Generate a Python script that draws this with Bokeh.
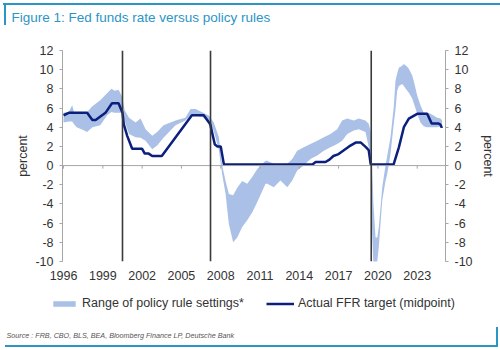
from bokeh.plotting import figure
from bokeh.layouts import column
from bokeh.models import (Range1d, LinearAxis, Span, Legend, LegendItem, FixedTicker, Label)
from bokeh.embed import file_html
from bokeh.resources import INLINE

# ---- data (x in chart years) ----
band_year = [1996.0, 1996.4, 1996.66, 1996.8, 1997.0, 1997.5, 1997.8, 1998.2, 1998.8,
             1999.36, 1999.66, 1999.9, 2000.2, 2000.47, 2000.66, 2001.0, 2001.5, 2001.88,
             2002.26, 2002.77, 2003.15, 2003.63, 2004.55, 2005.3, 2005.7, 2006.08, 2006.59,
             2007.1, 2007.47, 2007.86, 2008.11, 2008.37, 2008.62, 2008.95, 2009.26, 2009.64,
             2010.02, 2010.4, 2010.79, 2011.42, 2011.55, 2012.05, 2012.56, 2013.08, 2013.46,
             2013.84, 2014.34, 2014.85, 2015.37, 2015.87, 2016.38, 2016.89, 2017.27, 2017.66,
             2018.16, 2018.54, 2019.05, 2019.3, 2019.45, 2019.56, 2019.66, 2019.82, 2019.95,
             2020.07, 2020.33, 2020.58, 2020.71, 2020.96, 2021.21, 2021.34, 2021.47, 2021.6,
             2021.85, 2021.98, 2022.24, 2022.36, 2022.62, 2022.74, 2023.0, 2023.25, 2023.5,
             2023.76, 2024.02, 2024.53, 2024.78, 2024.9]
band_upper = [5.5, 5.6, 6.3, 5.6, 5.6, 5.5, 5.6, 6.2, 6.8,
              7.6, 8.0, 7.8, 7.9, 7.2, 5.8, 5.0, 4.5, 4.9,
              3.8, 3.1, 3.5, 4.2, 4.7, 5.0, 5.9, 5.9, 5.55,
              5.2, 4.5, 2.95, 0.0, -1.6, -2.95, -3.1, -2.3, -1.6,
              -1.9, -1.2, -0.35, 0.5, 0.5, 0.2, 0.0, 0.2, 0.7,
              1.56, 1.9, 2.25, 2.6, 2.95, 3.3, 3.8, 4.7, 4.9,
              4.7, 4.9, 4.7, 4.35, 3.5, 0.0, -4.0, -7.5, -7.5,
              -6.4, -2.25, 0.0, 1.0, 2.95, 6.1, 8.85, 9.6, 10.2,
              10.4, 10.6, 10.3, 10.1, 9.4, 8.8, 7.3, 6.3, 5.5,
              5.5, 5.4, 5.0, 4.9, 4.7]
band_lower = [4.5, 4.6, 4.6, 4.3, 4.0, 3.7, 3.5, 4.0, 4.2,
              5.3, 5.6, 5.5, 5.5, 5.5, 4.6, 3.3, 2.95, 2.9,
              2.6, 1.7, 2.1, 2.9, 4.2, 4.7, 5.2, 5.2, 5.1,
              4.7, 3.6, 1.6, -0.9, -2.95, -6.1, -8.0, -7.5, -6.4,
              -5.7, -4.9, -3.8, -1.9, -1.9, -2.25, -1.56, -2.25, -1.56,
              -0.5, 0.0, 0.7, 1.05, 1.56, 1.9, 2.25, 2.6, 3.3,
              3.65, 3.8, 3.5, 1.9, 0.3, -7.0, -10.5, -10.5, -10.0,
              -8.5, -3.65, -1.6, -0.9, 1.2, 4.35, 5.8, 7.8, 8.3,
              8.5, 8.3, 7.8, 7.6, 7.0, 6.5, 5.4, 4.5, 4.1,
              4.0, 4.0, 4.0, 4.1, 4.2]

ffr_year = [1996.0, 1996.4, 1997.8, 1998.2, 1998.45, 1999.2, 1999.7, 2000.2, 2000.5,
            2000.6, 2000.86, 2001.24, 2002.0, 2002.2, 2002.5, 2002.77, 2003.5, 2005.8,
            2006.7, 2007.2, 2007.55, 2007.75, 2008.0, 2008.24, 2015.0, 2015.25, 2016.0,
            2016.3, 2016.6, 2017.0, 2017.4, 2017.8, 2018.3, 2018.7, 2019.1, 2019.3,
            2019.45, 2021.2, 2021.6, 2021.98, 2022.36, 2023.0, 2023.76, 2024.1, 2024.6,
            2024.75, 2024.8, 2024.85, 2024.9]
ffr_rate = [5.25, 5.5, 5.5, 4.75, 4.75, 5.5, 6.5, 6.5, 5.5,
            4.3, 3.1, 1.75, 1.75, 1.25, 1.25, 1.0, 1.0, 5.25,
            5.25, 4.3, 2.2, 2.0, 2.0, 0.125, 0.125, 0.375, 0.375,
            0.625, 1.0, 1.2, 1.6, 2.0, 2.4, 2.4, 1.9, 1.6,
            0.125, 0.125, 1.9, 4.0, 4.9, 5.4, 5.4, 4.4, 4.4,
            4.3, 4.2, 4.0, 4.1]

recession_lines = [2000.5, 2007.22, 2019.49]
x_ticks = [1996, 1999, 2002, 2005, 2008, 2011, 2014, 2017, 2020, 2023]
y_ticks = [-10, -8, -6, -4, -2, 0, 2, 4, 6, 8, 10, 12]

series_labels = ["Range of policy rule settings*", "Actual FFR target (midpoint)"]
title_text = "Figure 1: Fed funds rate versus policy rules"
source_text = "Source : FRB, CBO, BLS, BEA, Bloomberg Finance LP, Deutsche Bank"

# ---- styling ----
FONT = "Liberation Sans"
BAND = "#aac0e6"
NAVY = "#0b1f7c"
TEAL = "#2b95c6"
AXIS_GREY = "#a6a6a6"
TXT = "#333333"
NAN = float("nan")


def teal_bars(positions, sizes):
    return {
        "background-color": "white",
        "background-image": ", ".join(["linear-gradient(%s, %s)" % (TEAL, TEAL)] * len(positions)),
        "background-repeat": "no-repeat",
        "background-position": ", ".join(positions),
        "background-size": ", ".join(sizes),
    }


def strip(height):
    f = figure(width=500, height=height, output_backend="svg", toolbar_location=None,
               x_range=Range1d(0, 500), y_range=Range1d(0, height), title=None,
               x_axis_type=None, y_axis_type=None, frame_align=False,
               min_border_left=0, min_border_right=0, min_border_top=0, min_border_bottom=0)
    f.outline_line_color = None
    f.background_fill_alpha = 0
    f.border_fill_alpha = 0
    return f


# ---------------- title strip ----------------
p0 = strip(40)
p0.styles = teal_bars(["3px 3px", "4px 3px"], ["497px 2px", "2px 22px"])
p0.add_layout(Label(x=11, y=23, x_units="screen", y_units="screen", text=title_text,
                    text_font=FONT, text_font_size="13.5px", text_color=TEAL,
                    text_baseline="middle", text_align="left"))

# ---------------- main chart ----------------
p = figure(width=500, height=250, frame_width=383, frame_height=211, title=None,
           output_backend="svg", toolbar_location=None, frame_align=False,
           x_range=Range1d(1995.92, 2025.16), y_range=Range1d(-10, 12),
           min_border_left=62, min_border_right=55, min_border_top=10,
           min_border_bottom=29, x_axis_location="below", y_axis_location="left")
p.grid.visible = False
p.outline_line_color = None
p.background_fill_color = "white"
p.border_fill_color = "white"

band_r = p.varea(x=band_year, y1=band_lower, y2=band_upper, fill_color=BAND, fill_alpha=1.0)
line_r = p.line(x=ffr_year, y=ffr_rate, line_color=NAVY, line_width=2.5)

p.add_layout(Span(location=0, dimension="width", line_color=AXIS_GREY, line_width=1))
p.segment(x0=x_ticks, y0=[0] * len(x_ticks), x1=x_ticks, y1=[-0.32] * len(x_ticks),
          line_color=AXIS_GREY, line_width=1)
for yr in recession_lines:
    p.add_layout(Span(location=yr, dimension="height", line_color="#3a3a3a", line_width=1.6))

right = LinearAxis()
p.add_layout(right, "right")

for ax in [p.yaxis[0], right]:
    ax.ticker = FixedTicker(ticks=y_ticks)
    ax.major_label_overrides = {t: str(t) for t in y_ticks}
    ax.axis_line_color = AXIS_GREY
    ax.major_tick_line_color = AXIS_GREY
    ax.major_tick_out = 3
    ax.major_tick_in = 0
    ax.minor_tick_out = 0
    ax.minor_tick_in = 0
    ax.major_label_text_font = FONT
    ax.major_label_text_font_size = "12.5px"
    ax.major_label_text_color = TXT
    ax.major_label_standoff = 6
    ax.axis_label = "percent"
    ax.axis_label_text_font = FONT
    ax.axis_label_text_font_size = "12.5px"
    ax.axis_label_text_font_style = "normal"
    ax.axis_label_text_color = TXT
p.yaxis[0].axis_label_standoff = 2
right.axis_label_standoff = 5

xa = p.xaxis[0]
xa.ticker = FixedTicker(ticks=x_ticks)
xa.axis_line_color = None
xa.major_tick_line_color = None
xa.major_tick_out = 0
xa.major_tick_in = 0
xa.minor_tick_out = 0
xa.minor_tick_in = 0
xa.major_label_text_font = FONT
xa.major_label_text_font_size = "12.5px"
xa.major_label_text_color = TXT
xa.major_label_standoff = 9

# ---------------- legend + source strip ----------------
p2 = strip(60)
p2.styles = teal_bars(["5px 55px", "496px 37px"], ["492px 2px", "2px 20px"])

band_key = p2.varea(x=[NAN], y1=[NAN], y2=[NAN], fill_color=BAND, fill_alpha=1.0)
line_key = p2.line(x=[NAN], y=[NAN], line_color=NAVY, line_width=2.5)

legend = Legend(items=[LegendItem(label=series_labels[0], renderers=[band_key]),
                       LegendItem(label=series_labels[1], renderers=[line_key])],
                orientation="horizontal", location=(50, 40),
                glyph_width=28, glyph_height=7, label_height=7,
                label_standoff=4, spacing=22, padding=0, margin=0,
                border_line_color=None, background_fill_alpha=0,
                label_text_font=FONT, label_text_font_size="12.5px",
                label_text_color=TXT)
p2.add_layout(legend)

p2.add_layout(Label(x=6, y=15, x_units="screen", y_units="screen", text=source_text,
                    text_font=FONT, text_font_size="7.2px", text_font_style="italic",
                    text_color="#555555", text_baseline="middle", text_align="left"))

layout = column(p0, p, p2, spacing=0)
open("out.html", "w").write(file_html(layout, INLINE))
